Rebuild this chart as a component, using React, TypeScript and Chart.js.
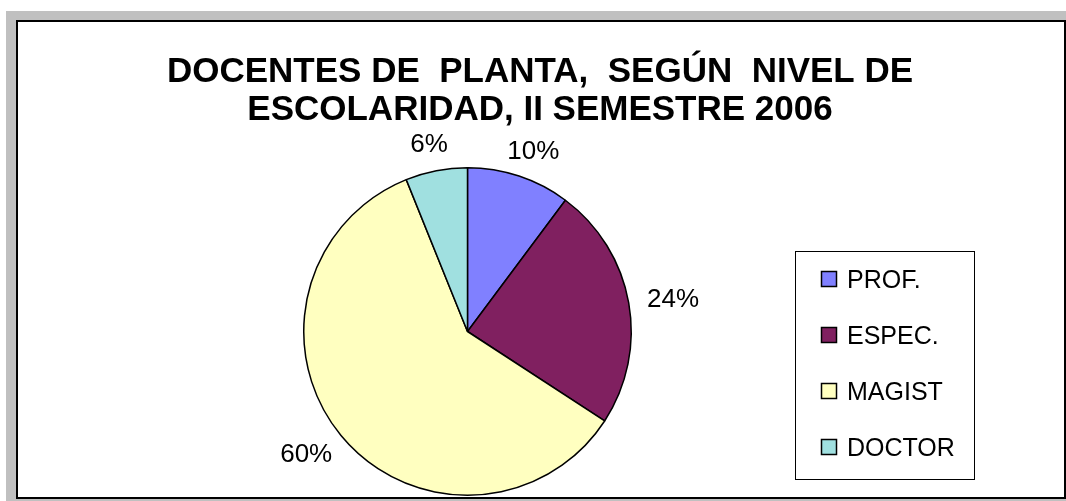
import React, { useEffect, useRef } from "react";
import { Chart, registerables } from "chart.js";

Chart.register(...registerables);

const titleLines = ["DOCENTES DE  PLANTA,  SEGÚN  NIVEL DE", "ESCOLARIDAD, II SEMESTRE 2006"];
const categories = ["PROF.", "ESPEC.", "MAGIST", "DOCTOR"];
const values = [10.2, 24.0, 59.7, 6.1];
const colors = ["#8080FF", "#802060", "#FFFFC0", "#A0E0E0"];

const FONT = '"Liberation Sans", Arial, sans-serif';

const titlePlugin = {
  id: "customTitle",
  afterDraw(chart: any) {
    const ctx = chart.ctx;
    ctx.save();
    ctx.fillStyle = "#000";
    ctx.font = `bold 35px ${FONT}`;
    ctx.textAlign = "center";
    ctx.textBaseline = "alphabetic";
    const cx = chart.width / 2 - 1;
    titleLines.forEach((line, i) => {
      ctx.fillText(line, cx, 60 + i * 38);
    });
    ctx.restore();
  },
};

const labelPlugin = {
  id: "pctLabels",
  afterDatasetsDraw(chart: any) {
    const ctx = chart.ctx;
    const meta = chart.getDatasetMeta(0);
    const data = chart.data.datasets[0].data as number[];
    const total = data.reduce((a, b) => a + b, 0);
    ctx.save();
    ctx.font = `26px ${FONT}`;
    ctx.fillStyle = "#000";
    ctx.textAlign = "center";
    ctx.textBaseline = "alphabetic";
    meta.data.forEach((arc: any, i: number) => {
      const p = arc.getProps(["x", "y", "startAngle", "endAngle", "outerRadius"], true);
      const a = (p.startAngle + p.endAngle) / 2;
      const text = Math.round((data[i] / total) * 100) + "%";
      const w = ctx.measureText(text).width;
      const h = 18;
      const R = p.outerRadius + 19;
      const cx = p.x + R * Math.cos(a) + (w / 2) * Math.cos(a);
      const cy = p.y + R * Math.sin(a) + (h / 2) * Math.sin(a);
      ctx.fillText(text, cx, cy + 9);
    });
    ctx.restore();
  },
};

const legendPlugin = {
  id: "boxLegend",
  afterDraw(chart: any) {
    const ctx = chart.ctx;
    const labels = chart.data.labels as string[];
    const bg = chart.data.datasets[0].backgroundColor as string[];
    const bx = 777.5, by = 229.5, bw = 179, bh = 228;
    ctx.save();
    ctx.strokeStyle = "#000";
    ctx.lineWidth = 1;
    ctx.strokeRect(bx, by, bw, bh);
    ctx.font = `25px ${FONT}`;
    ctx.textAlign = "left";
    ctx.textBaseline = "alphabetic";
    labels.forEach((lab, i) => {
      const cy = 257 + i * 56;
      ctx.fillStyle = bg[i];
      ctx.fillRect(803.5, cy - 7.5, 15, 15);
      ctx.lineWidth = 1.5;
      ctx.strokeStyle = "#000";
      ctx.strokeRect(803.5, cy - 7.5, 15, 15);
      ctx.fillStyle = "#000";
      ctx.fillText(lab, 829, cy + 9);
    });
    ctx.restore();
  },
};

export default function App() {
  const ref = useRef<HTMLCanvasElement | null>(null);
  useEffect(() => {
    document.body.style.overflow = "hidden";
    if (!ref.current) return;
    const chart = new Chart(ref.current, {
      type: "pie",
      data: {
        labels: categories,
        datasets: [
          {
            data: values,
            backgroundColor: colors,
            borderColor: "#000",
            borderWidth: 1.5,
          },
        ],
      },
      options: {
        animation: false,
        responsive: false,
        maintainAspectRatio: false,
        layout: { padding: { left: 285, right: 432, top: 145, bottom: 1 } },
        plugins: {
          legend: { display: false },
          title: { display: false },
          tooltip: { enabled: false },
        },
      },
      plugins: [titlePlugin, labelPlugin, legendPlugin],
    });
    return () => chart.destroy();
  }, []);

  return (
    <div
      style={{
        position: "absolute",
        left: 6,
        top: 11,
        width: 1060,
        height: 490,
        background: "#c0c0c0",
      }}
    >
      <div
        style={{
          position: "absolute",
          left: 10,
          top: 9,
          width: 1050,
          height: 479,
          boxSizing: "border-box",
          border: "2px solid #000",
          background: "#fff",
        }}
      >
        <canvas ref={ref} width={1046} height={475} style={{ display: "block" }} />
      </div>
    </div>
  );
}
